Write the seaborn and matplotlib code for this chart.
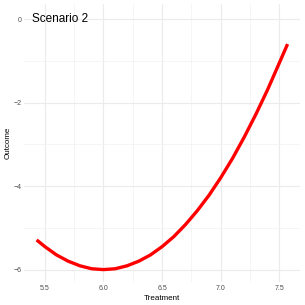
import numpy as np
import pandas as pd
import seaborn as sns
import matplotlib.pyplot as plt
from matplotlib.ticker import MultipleLocator

# values
treatment = [5.43, 5.5, 5.6, 5.7, 5.8, 5.9, 6.0, 6.1, 6.2, 6.3, 6.4, 6.5,
             6.6, 6.7, 6.8, 6.9, 7.0, 7.1, 7.2, 7.3, 7.4, 7.5, 7.57]
outcome = [-5.29, -5.45, -5.65, -5.80, -5.91, -5.98, -6.00, -5.98, -5.91,
           -5.80, -5.65, -5.45, -5.21, -4.92, -4.59, -4.22, -3.80, -3.34,
           -2.83, -2.28, -1.69, -1.05, -0.60]
title_text = 'Scenario 2'
x_ticks = [5.5, 6.0, 6.5, 7.0, 7.5]
y_ticks = [0, -2, -4, -6]

df = pd.DataFrame({'Treatment': treatment, 'Outcome': outcome})

sns.set_theme(style='white')
plt.rcParams['font.family'] = ['Liberation Sans', 'DejaVu Sans']

fig = plt.figure(figsize=(3.05, 3.05), dpi=100)
ax = fig.add_axes([0.079, 0.075, 0.905, 0.912])

sns.lineplot(data=df, x='Treatment', y='Outcome', color='red', linewidth=2.4,
             ax=ax, sort=False, solid_joinstyle='round', solid_capstyle='butt')

ax.text(5.39, 0, title_text, fontsize=8.5, color='black', ha='left', va='center')

ax.set_xlim(5.323, 7.677)
ax.set_ylim(-6.3, 0.36)
ax.set_xticks(x_ticks)
ax.set_xticklabels([f'{v:.1f}' for v in x_ticks])
ax.set_yticks(y_ticks)
ax.set_yticklabels([str(v).replace('-', '\u2212') for v in y_ticks])
ax.xaxis.set_minor_locator(MultipleLocator(0.25))
ax.yaxis.set_minor_locator(MultipleLocator(1))
ax.grid(which='major', color='#ebebeb', linewidth=0.8)
ax.grid(which='minor', color='#f2f2f2', linewidth=0.5)
ax.set_axisbelow(True)
for s in ax.spines.values():
    s.set_visible(False)
ax.tick_params(which='both', length=0, labelsize=5, colors='#4d4d4d', pad=2)
ax.set_xlabel('Treatment', fontsize=5.8, color='black', labelpad=2)
ax.set_ylabel('Outcome', fontsize=5.8, color='black', labelpad=1)

fig.savefig('out.png', dpi=100)
